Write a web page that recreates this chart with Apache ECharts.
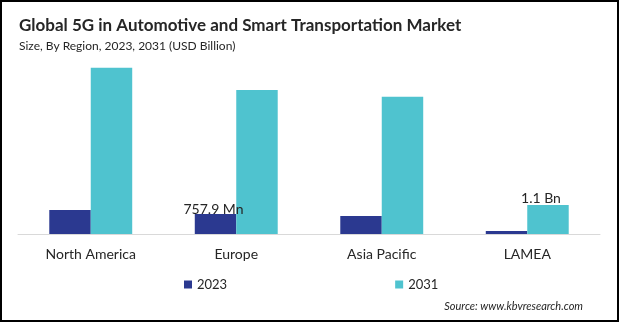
<!DOCTYPE html>
<html>
<head>
<meta charset="utf-8">
<script src="https://cdn.jsdelivr.net/npm/echarts@6/dist/echarts.min.js"></script>
<style>
html,body{margin:0;padding:0;background:#fff;}
#chart{width:619px;height:322px;}
</style>
</head>
<body>
<div id="chart"></div>
<script>
const categories = ['North America', 'Europe', 'Asia Pacific', 'LAMEA'];
const seriesNames = ['2023', '2031'];
const values2023 = [0.91, 0.7579, 0.68, 0.11];
const values2031 = [6.31, 5.46, 5.21, 1.1];
const labels2023 = ['', '757.9 Mn', '', ''];
const labels2031 = ['', '', '', '1.1 Bn'];

const FONT = 'Lato, "Open Sans", sans-serif';
const chart = echarts.init(document.getElementById('chart'), null, {renderer: 'canvas'});

chart.setOption({
  animation: false,
  backgroundColor: '#fff',
  title: [
    {text: 'Global 5G in Automotive and Smart Transportation Market', left: 14, top: 12,
     textStyle: {fontFamily: FONT, fontSize: 17, fontWeight: 'bold', color: '#262626'}},
    {text: 'Size, By Region, 2023, 2031 (USD Billion)', left: 14, top: 35,
     textStyle: {fontFamily: FONT, fontSize: 12, fontWeight: 'normal', color: '#262626'}},
    {text: 'Source: www.kbvresearch.com', right: 31, top: 296,
     textStyle: {fontFamily: FONT, fontSize: 11, fontStyle: 'italic', fontWeight: 'normal', color: '#262626'}}
  ],
  legend: {
    data: seriesNames, left: 179, top: 273, itemWidth: 8, itemHeight: 8, itemGap: 168,
    icon: 'rect',
    textStyle: {fontFamily: FONT, fontSize: 13, color: '#262626'}
  },
  grid: {left: 18, right: 19, top: 23.1, bottom: 88, containLabel: false},
  xAxis: {
    type: 'category', data: categories,
    axisLine: {lineStyle: {color: '#d9d9d9', width: 1}},
    axisTick: {show: false},
    axisLabel: {fontFamily: FONT, fontSize: 14, color: '#262626', margin: 13}
  },
  yAxis: {type: 'value', min: 0, max: 8, show: false, splitLine: {show: false}},
  series: [
    {name: seriesNames[0], type: 'bar', data: values2023, barGap: '0%', barCategoryGap: '43%',
     itemStyle: {color: '#2B3990'},
     label: {show: true, position: 'top', distance: -2, offset: [-2, 0],
       formatter: p => labels2023[p.dataIndex], fontFamily: FONT, fontSize: 14, color: '#262626'}},
    {name: seriesNames[1], type: 'bar', data: values2031, barGap: '0%', barCategoryGap: '43%',
     itemStyle: {color: '#4FC3CF'},
     label: {show: true, position: 'top', distance: 0, offset: [-7, 0],
       formatter: p => labels2031[p.dataIndex], fontFamily: FONT, fontSize: 14, color: '#262626'}}
  ],
  graphic: [{
    type: 'rect', silent: true, z: 100,
    shape: {x: 1, y: 1, width: 617, height: 320},
    style: {fill: 'none', stroke: '#000', lineWidth: 2}
  }]
});
</script>
</body>
</html>
